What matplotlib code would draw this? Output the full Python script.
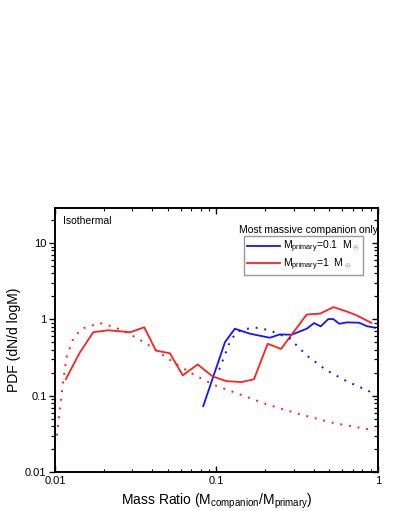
import matplotlib
matplotlib.use("Agg")
import matplotlib.pyplot as plt
from matplotlib.ticker import LogLocator, FixedLocator, FixedFormatter, NullFormatter

plt.rcParams["font.family"] = ["Liberation Sans", "DejaVu Sans"]
plt.rcParams["mathtext.fontset"] = "custom"
plt.rcParams["mathtext.rm"] = "Liberation Sans"

# red, M_primary = 1 Msun (solid)
q_red = [0.0117, 0.0142, 0.0173, 0.0214, 0.0294, 0.0357, 0.0422, 0.0515, 0.0618,
         0.0765, 0.0947, 0.1156, 0.143, 0.1706, 0.2075, 0.251, 0.362, 0.438,
         0.529, 0.64, 0.738, 0.91]
pdf_red = [0.165, 0.363, 0.68, 0.72, 0.68, 0.79, 0.39, 0.36, 0.185,
           0.257, 0.179, 0.155, 0.151, 0.164, 0.48, 0.41, 1.16, 1.19,
           1.45, 1.27, 1.13, 0.90]

# red dotted
q_red_dot = [0.0103, 0.0107, 0.0112, 0.0118, 0.0130, 0.0146, 0.019, 0.0235, 0.0291,
             0.037, 0.0469, 0.0594, 0.0754, 0.0955, 0.127, 0.205, 0.329, 0.529, 0.96]
pdf_red_dot = [0.030, 0.064, 0.144, 0.32, 0.56, 0.755, 0.895, 0.79, 0.64,
               0.48, 0.337, 0.242, 0.18, 0.14, 0.112, 0.077, 0.057, 0.044, 0.035]

# blue, M_primary = 0.1 Msun (solid)
q_blue = [0.0828, 0.113, 0.130, 0.161, 0.214, 0.247, 0.292, 0.362, 0.402, 0.442,
          0.492, 0.529, 0.575, 0.64, 0.765, 0.851, 0.957]
pdf_blue = [0.073, 0.505, 0.755, 0.65, 0.575, 0.636, 0.63, 0.755, 0.895, 0.81,
            1.01, 1.01, 0.877, 0.914, 0.905, 0.817, 0.778]

# blue dotted
q_blue_dot = [0.104, 0.121, 0.133, 0.15, 0.18, 0.214, 0.285, 0.362, 0.48, 0.64, 0.935]
pdf_blue_dot = [0.22, 0.505, 0.68, 0.75, 0.778, 0.717, 0.56, 0.337, 0.215, 0.155, 0.108]

fig = plt.figure(figsize=(3.95, 5.11), dpi=100)
ax = fig.add_axes([0.139, 0.0763, 0.818, 0.517])

ax.plot(q_blue, pdf_blue, color="#1414ff", lw=1.3,
        label=r"M$_{\rm primary}$=0.1  M$_\odot$")
ax.plot(q_red, pdf_red, color="#ff2020", lw=1.3,
        label=r"M$_{\rm primary}$=1  M$_\odot$")
ax.plot(q_blue_dot, pdf_blue_dot, color="#1414ff", lw=1.4, ls=(0, (1, 3.5)))
ax.plot(q_red_dot, pdf_red_dot, color="#ff2020", lw=1.4, ls=(0, (1, 3.5)))

ax.set_xscale("log")
ax.set_yscale("log")
ax.set_xlim(0.01, 1)
ax.set_ylim(0.01, 29)

ax.xaxis.set_major_locator(FixedLocator([0.01, 0.1, 1]))
ax.xaxis.set_major_formatter(FixedFormatter(["0.01", "0.1", "1"]))
ax.xaxis.set_minor_locator(LogLocator(base=10, subs=range(2, 10)))
ax.xaxis.set_minor_formatter(NullFormatter())
ax.yaxis.set_major_locator(FixedLocator([0.01, 0.1, 1, 10]))
ax.yaxis.set_major_formatter(FixedFormatter(["0.01", "0.1", "1", "10"]))
ax.yaxis.set_minor_locator(LogLocator(base=10, subs=range(2, 10)))
ax.yaxis.set_minor_formatter(NullFormatter())

ax.tick_params(axis="x", which="both", direction="in", top=True, labelsize=8, pad=3)
ax.tick_params(axis="x", which="major", length=4, width=1)
ax.tick_params(axis="x", which="minor", length=2.5, width=0.8)
ax.tick_params(axis="y", which="both", direction="out", labelsize=8, pad=2)
ax.tick_params(axis="y", which="major", length=4, width=1)
ax.tick_params(axis="y", which="minor", length=3, width=0.9)

# right spine ticks point inward
ax_r = ax.twinx()
ax_r.set_yscale("log")
ax_r.set_ylim(ax.get_ylim())
ax_r.yaxis.set_major_locator(FixedLocator([0.01, 0.1, 1, 10]))
ax_r.yaxis.set_minor_locator(LogLocator(base=10, subs=range(2, 10)))
ax_r.yaxis.set_major_formatter(NullFormatter())
ax_r.yaxis.set_minor_formatter(NullFormatter())
ax_r.tick_params(axis="y", which="both", direction="in")
ax_r.tick_params(axis="y", which="major", length=4, width=1)
ax_r.tick_params(axis="y", which="minor", length=3, width=0.9)

for a in (ax, ax_r):
    for s in a.spines.values():
        s.set_linewidth(1.2)

ax.set_xlabel(r"Mass Ratio (M$_{\rm companion}$/M$_{\rm primary}$)", fontsize=10, labelpad=4)
ax.set_ylabel("PDF (dN/d logM)", fontsize=10, labelpad=3)

ax.text(0.025, 0.97, "Isothermal", transform=ax.transAxes, fontsize=7.5,
        ha="left", va="top")
ax.text(1.0, 0.935, "Most massive companion only", transform=ax.transAxes,
        fontsize=7.5, ha="right", va="top")

leg = ax.legend(loc="upper right", bbox_to_anchor=(0.952, 0.892), fontsize=7.5,
                frameon=True, fancybox=False, edgecolor="#808080",
                handlelength=3.2, handletextpad=0.3, borderpad=0.25,
                labelspacing=0.1, borderaxespad=0)
leg.get_frame().set_linewidth(1.0)

fig.savefig("out.png", dpi=100)
